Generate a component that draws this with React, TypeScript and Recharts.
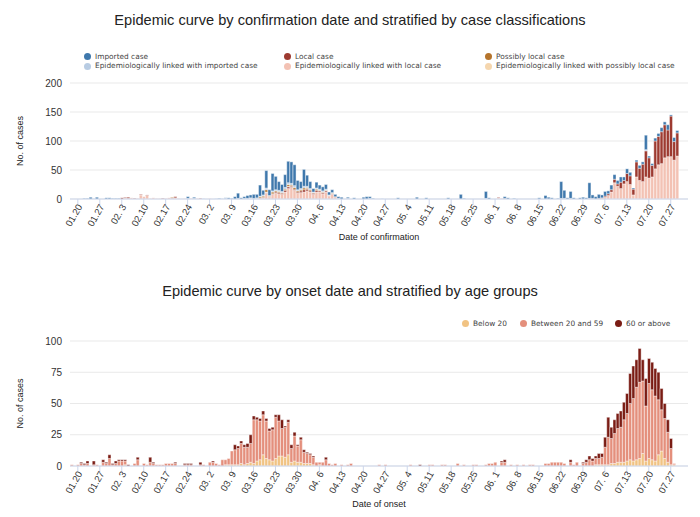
import { Bar, BarChart, CartesianGrid, XAxis, YAxis } from "recharts";

// calendar: 18 Jan – 1 Aug
const monthSpans = [
  { m: "01", from: 18, to: 31 },
  { m: "02", from: 1, to: 29 },
  { m: "03", from: 1, to: 31 },
  { m: "04", from: 1, to: 30 },
  { m: "05", from: 1, to: 31 },
  { m: "06", from: 1, to: 30 },
  { m: "07", from: 1, to: 31 },
  { m: "08", from: 1, to: 1 },
];
const dates: string[] = monthSpans.flatMap(({ m, from, to }) =>
  Array.from({ length: to - from + 1 }, (_, k) => `${m}.${String(from + k).padStart(2, " ")}`)
);

const tickDates = [
  "01.20", "01.27", "02. 3", "02.10", "02.17", "02.24", "03. 2", "03. 9", "03.16", "03.23",
  "03.30", "04. 6", "04.13", "04.20", "04.27", "05. 4", "05.11", "05.18", "05.25", "06. 1",
  "06. 8", "06.15", "06.22", "06.29", "07. 6", "07.13", "07.20", "07.27",
];

// ---- confirmation date, by classification (rows: Jan, Feb, Mar, Apr, May, Jun, Jul+Aug1)
const imported = [
  0,0,0,0,1,1,3,0,3,0,0,2,2,1,
  1,1,0,0,0,0,0,0,0,0,0,0,0,0,0,0,0,0,0,0,0,0,0,3,0,2,0,0,0,
  0,0,0,0,1,0,1,2,1,4,9,2,3,5,5,7,6,19,8,30,10,30,23,15,12,22,37,37,36,16,12,
  29,19,12,6,10,7,7,8,5,5,4,3,3,0,2,0,2,0,0,3,4,3,1,0,0,0,0,0,0,0,
  2,0,0,0,0,0,3,0,0,2,0,0,0,0,0,0,2,0,0,0,8,1,0,0,0,0,0,0,12,2,0,
  0,0,0,3,2,0,1,0,0,0,0,0,0,0,2,0,6,3,2,0,1,29,14,2,12,2,0,2,3,2,
  27,6,4,7,5,8,5,8,8,6,9,6,8,6,2,3,5,4,25,3,3,5,5,7,5,9,2,7,4,0,0,0,
];
const epiImported = [
  0,0,0,0,0,0,0,1,0,0,0,0,0,0,
  0,0,0,0,0,0,0,0,0,0,0,0,0,0,0,0,0,0,0,0,0,0,0,1,0,1,0,0,1,
  0,0,0,1,0,1,1,0,0,0,1,0,1,1,1,1,1,1,2,3,1,2,2,2,2,3,3,3,3,2,2,
  3,2,2,1,2,2,2,2,1,1,0,0,0,0,1,0,0,0,0,0,0,1,0,0,0,1,0,0,0,0,
  0,0,0,0,0,0,0,0,0,0,0,0,0,0,0,0,0,0,0,0,0,0,0,0,0,0,0,0,1,0,0,
  0,0,0,0,0,0,0,0,0,0,0,0,0,0,0,0,0,0,0,0,0,1,1,0,1,0,0,0,0,0,
  1,0,0,0,0,0,0,0,0,0,0,0,0,0,0,0,0,0,2,0,0,0,0,0,0,0,0,0,0,0,0,0,
];
const localCase = [
  0,0,0,0,0,0,0,0,0,0,0,0,0,0,
  0,0,2,1,2,0,1,0,1,0,1,0,0,0,0,1,0,0,1,2,0,0,0,0,0,0,0,1,0,
  0,0,0,0,0,0,0,0,0,0,0,0,0,0,0,0,0,1,1,1,1,1,2,2,2,3,3,2,2,2,3,
  4,3,2,2,3,2,2,2,1,1,1,0,0,0,0,0,0,0,0,0,0,0,0,0,0,0,0,0,0,0,
  0,0,0,0,0,0,0,0,0,0,0,0,0,0,0,0,0,0,0,0,0,0,0,0,0,0,0,0,0,0,0,
  0,1,0,1,0,0,0,0,0,0,0,0,0,0,0,0,0,0,0,0,0,0,0,0,0,0,0,0,0,0,
  0,1,0,1,1,2,3,4,6,4,11,6,14,15,10,26,21,30,45,35,20,48,49,55,57,46,70,32,40,0,0,0,
];
const epiLocal = [
  0,0,0,0,0,0,0,0,0,0,0,0,0,0,
  0,0,0,2,1,2,0,1,7,4,6,1,2,1,1,0,1,2,1,2,1,0,1,0,1,0,1,0,0,
  0,1,0,0,0,0,0,0,0,0,0,0,0,0,1,0,0,1,2,10,3,8,10,9,8,12,18,20,15,10,11,
  12,14,12,8,12,12,9,12,5,8,3,1,0,0,0,0,0,0,0,0,0,0,0,0,0,0,0,0,0,0,
  0,0,0,0,0,0,0,0,0,0,0,0,0,0,0,0,0,0,0,0,0,0,0,0,0,0,0,0,0,0,0,
  0,2,1,0,0,0,0,0,0,0,0,0,0,0,0,0,0,0,0,0,0,0,0,0,0,0,0,0,0,0,
  0,0,0,0,1,3,6,12,28,22,18,26,30,25,7,38,32,30,38,36,38,52,59,61,71,73,73,67,74,0,0,0,
];
const possiblyLocal = [
  0,0,0,0,0,0,0,0,0,0,0,0,0,0,
  0,0,0,0,0,0,0,0,0,0,0,0,0,0,0,0,0,0,1,0,0,0,0,0,0,0,0,0,0,
  0,0,0,0,0,0,0,0,0,0,0,0,0,0,0,0,1,2,2,4,1,3,2,2,1,2,3,2,3,2,2,
  3,2,2,1,2,1,1,1,0,1,0,0,0,0,0,0,0,0,0,0,0,0,0,0,0,0,0,0,0,0,
];
const epiPossiblyLocal = [
  0,0,0,0,0,0,0,0,0,0,0,0,0,0,
  0,0,0,0,0,0,0,0,0,0,0,0,0,0,0,0,0,0,0,0,0,0,0,0,0,0,0,0,0,
  0,0,0,0,0,0,0,0,0,0,0,0,0,0,0,0,0,0,0,1,0,0,0,0,0,0,1,0,0,0,0,
  0,1,0,0,0,0,0,0,0,0,0,0,0,0,0,0,0,0,0,0,0,0,0,0,0,0,0,0,0,0,
];

// ---- onset date, by age group
const below20 = [
  0,0,0,0,0,0,0,0,0,0,0,0,0,0,
  0,0,0,1,0,0,0,0,0,0,0,0,0,0,0,0,0,0,0,0,0,0,0,0,0,0,0,0,0,
  0,0,0,0,0,0,1,1,1,1,1,2,1,2,3,2,4,5,9,6,5,4,6,8,8,7,9,3,4,3,3,
  2,2,2,1,0,1,0,0,0,0,0,0,0,0,0,0,0,0,0,0,0,0,0,0,0,0,0,0,0,0,
  0,0,0,0,0,0,0,0,0,0,0,0,0,0,0,0,0,0,0,0,0,0,0,0,0,0,0,0,0,0,0,
  0,0,0,0,0,0,0,0,0,0,0,0,0,0,0,0,0,0,0,0,0,0,0,0,0,0,0,0,0,0,
  0,0,1,1,1,1,1,2,2,3,3,3,4,5,4,5,6,10,4,6,5,4,9,12,6,3,1,1,0,0,0,0,
];
const age20to59 = [
  1,0,1,2,1,2,0,1,1,0,3,2,6,1,
  2,4,4,3,0,0,2,5,0,2,1,3,2,1,1,1,2,2,2,2,0,0,1,1,1,0,0,1,1,
  0,3,3,2,1,5,4,5,11,12,13,16,14,13,15,35,33,31,32,30,23,25,33,28,22,24,26,11,20,13,18,
  9,8,7,6,3,2,3,5,2,1,2,0,1,0,1,2,0,0,0,0,0,0,0,0,1,0,1,0,0,0,
  0,0,0,0,1,0,0,0,0,0,1,1,0,0,1,1,0,0,0,2,0,1,0,0,1,1,0,0,1,2,2,
  3,0,3,3,0,1,0,1,0,1,0,1,1,0,0,0,2,2,3,3,3,3,2,0,3,1,3,0,2,3,
  5,4,5,5,6,14,22,20,24,27,28,34,38,45,50,58,61,58,44,60,56,52,44,33,32,24,13,1,0,0,0,0,
];
const above60 = [
  0,0,0,1,1,2,0,3,0,0,2,1,3,1,
  2,1,1,1,1,0,0,2,0,0,0,4,1,0,0,0,0,0,0,1,0,0,1,1,1,0,0,2,0,
  0,0,1,0,0,0,0,0,0,4,2,2,2,3,7,3,2,2,3,2,2,2,2,5,7,1,2,3,3,1,2,
  2,1,1,1,0,0,0,2,0,0,0,0,0,0,0,0,0,0,0,0,0,0,0,0,0,0,0,0,0,0,
  0,0,0,0,0,0,0,1,0,0,0,0,0,0,0,0,0,0,0,0,0,0,0,0,0,0,0,0,0,0,0,
  0,0,1,2,0,0,0,0,0,0,0,0,0,0,0,0,0,0,0,0,0,0,0,0,2,0,0,0,1,2,
  3,2,2,4,3,8,16,9,11,12,13,14,16,24,26,22,27,17,22,20,22,22,22,17,12,10,8,0,0,0,0,0,
];

const classSeries = [
  { key: "epiLocal", name: "Epidemiologically linked with local case", color: "#f3c2b4", values: epiLocal },
  { key: "local", name: "Local case", color: "#9d3a30", values: localCase },
  { key: "epiPossible", name: "Epidemiologically linked with possibly local case", color: "#f5d6ae", values: epiPossiblyLocal },
  { key: "possible", name: "Possibly local case", color: "#b5742c", values: possiblyLocal },
  { key: "epiImported", name: "Epidemiologically linked with imported case", color: "#b8cce3", values: epiImported },
  { key: "imported", name: "Imported case", color: "#3f78ac", values: imported },
];
const ageSeries = [
  { key: "u20", name: "Below 20", color: "#f1c383", values: below20 },
  { key: "mid", name: "Between 20 and 59", color: "#e48f7c", values: age20to59 },
  { key: "o60", name: "60 or above", color: "#7a1c14", values: above60 },
];

const byClass = dates.map((date, i) => {
  const row: Record<string, string | number> = { date };
  classSeries.forEach((s) => (row[s.key] = s.values[i] ?? 0));
  return row;
});
const byAge = dates.map((date, i) => {
  const row: Record<string, string | number> = { date };
  ageSeries.forEach((s) => (row[s.key] = s.values[i] ?? 0));
  return row;
});

const topLegendCols = [
  { left: 84, items: [classSeries[5], classSeries[4]] },
  { left: 284, items: [classSeries[1], classSeries[0]] },
  { left: 485, items: [classSeries[3], classSeries[2]] },
];
const ageLegendLeft = [462, 520, 615];

const AXIS = "#ccd6eb";
const GRID = "#e9e9e9";
const SANS = "'Liberation Sans', Arial, sans-serif";
const LEGEND_FONT = "'DejaVu Sans', sans-serif";

function DateTick({ x, y, payload }: any) {
  return (
    <text
      x={x + 2}
      y={y - 2}
      transform={`rotate(-60 ${x + 2} ${y - 2})`}
      textAnchor="end"
      dy="0.35em"
      fontSize={9.5}
      fontFamily={SANS}
      fill="#333"
    >
      {payload.value}
    </text>
  );
}

function Dot({ color }: { color: string }) {
  return <span style={{ display: "inline-block", width: 7, height: 7, borderRadius: "50%", background: color, marginRight: 4, verticalAlign: "middle" }} />;
}

function EpiChart({ data, series, yMax, yTicks, top, height, xTitle }: any) {
  return (
    <BarChart width={700} height={height} data={data} margin={{ top, right: 12, bottom: 0, left: 15 }} barCategoryGap="10%">
      <CartesianGrid vertical={false} stroke={GRID} />
      <XAxis
        dataKey="date"
        ticks={tickDates}
        interval={0}
        tick={<DateTick />}
        tickLine={{ stroke: AXIS }}
        axisLine={{ stroke: AXIS }}
        height={51}
        label={{ value: xTitle, position: "insideBottom", offset: 10, fontSize: 9, fill: "#222", fontFamily: SANS }}
      />
      <YAxis
        domain={[0, yMax]}
        ticks={yTicks}
        width={55}
        axisLine={false}
        tickLine={false}
        tick={{ fontSize: 10, fill: "#333", fontFamily: SANS }}
        label={{ value: "No. of cases", angle: -90, position: "insideLeft", offset: 5, fontSize: 9, fill: "#222", fontFamily: SANS, style: { textAnchor: "middle" } }}
      />
      {series.map((s: any) => (
        <Bar key={s.key} dataKey={s.key} name={s.name} stackId="a" fill={s.color} stroke="#fff" strokeWidth={0.4} isAnimationActive={false} />
      ))}
    </BarChart>
  );
}

export default function App() {
  return (
    <div style={{ position: "absolute", left: 0, top: 0, width: 700, height: 517, background: "#fff", fontFamily: SANS }}>
      <div style={{ position: "absolute", top: 0, left: 0 }}>
        <EpiChart data={byClass} series={classSeries} yMax={200} yTicks={[0, 50, 100, 150, 200]} top={83} height={250} xTitle="Date of confirmation" />
      </div>
      <div style={{ position: "absolute", top: 250, left: 0 }}>
        <EpiChart data={byAge} series={ageSeries} yMax={100} yTicks={[0, 25, 50, 75, 100]} top={91} height={267} xTitle="Date of onset" />
      </div>

      <div style={{ position: "absolute", top: 12, left: 0, width: 700, textAlign: "center", fontSize: 14.6, lineHeight: "16px", color: "#222" }}>
        Epidemic curve by confirmation date and stratified by case classifications
      </div>
      <div style={{ position: "absolute", top: 283, left: 0, width: 700, textAlign: "center", fontSize: 14.6, lineHeight: "16px", color: "#222" }}>
        Epidemic curve by onset date and stratified by age groups
      </div>

      {topLegendCols.map((col) => (
        <div key={col.left} style={{ position: "absolute", top: 52, left: col.left, fontFamily: LEGEND_FONT, fontSize: 7.4, color: "#444", lineHeight: "9px" }}>
          {col.items.map((s) => (
            <div key={s.key} style={{ whiteSpace: "nowrap" }}>
              <Dot color={s.color} />
              <span style={{ verticalAlign: "middle" }}>{s.name}</span>
            </div>
          ))}
        </div>
      ))}
      {ageSeries.map((s, i) => (
        <div key={s.key} style={{ position: "absolute", top: 319, left: ageLegendLeft[i], fontFamily: LEGEND_FONT, fontSize: 7.4, color: "#444", whiteSpace: "nowrap", lineHeight: "9px" }}>
          <Dot color={s.color} />
          <span style={{ verticalAlign: "middle" }}>{s.name}</span>
        </div>
      ))}
    </div>
  );
}
